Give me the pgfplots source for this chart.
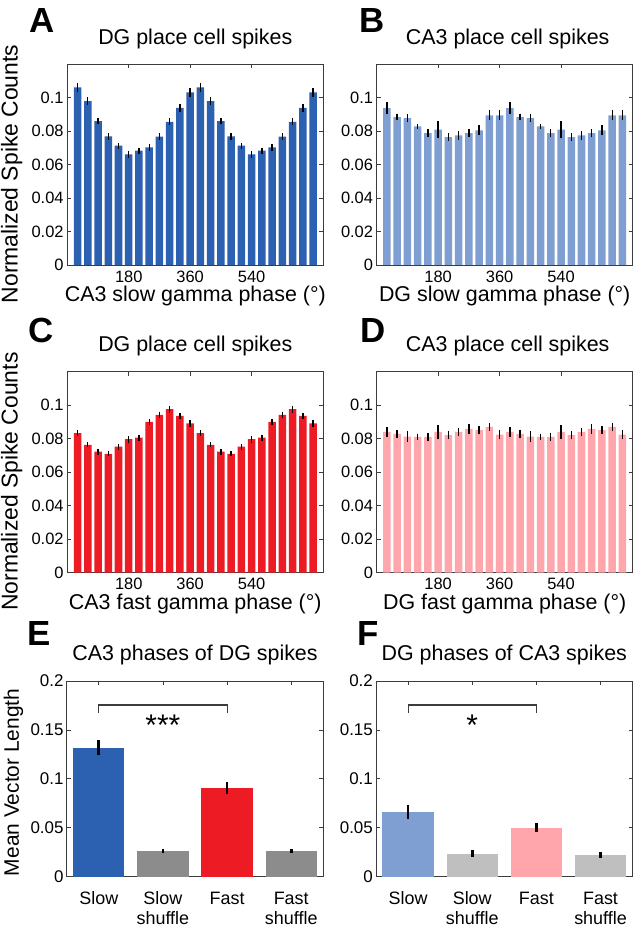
\documentclass[border=0pt]{standalone}
\usepackage{pgfplots}
\pgfplotsset{compat=1.18}
\usepackage{pgfplotstable}
\usepackage{fontspec}
\setmainfont{Liberation Sans}

\definecolor{cA}{RGB}{44,96,176}
\definecolor{cB}{RGB}{127,158,210}
\definecolor{cC}{RGB}{237,28,36}
\definecolor{cD}{RGB}{255,166,172}
\definecolor{gE}{RGB}{140,140,140}
\definecolor{gF}{RGB}{191,191,191}
\definecolor{frame}{RGB}{60,60,60}

\pgfplotstableread{
x y e
30 0.1060 0.0025
60 0.0978 0.0022
90 0.0859 0.0020
120 0.0768 0.0020
150 0.0712 0.0018
180 0.0661 0.0020
210 0.0683 0.0018
240 0.0702 0.0020
270 0.0766 0.0020
300 0.0855 0.0022
330 0.0938 0.0025
360 0.1030 0.0025
390 0.1060 0.0025
420 0.0978 0.0022
450 0.0859 0.0020
480 0.0768 0.0020
510 0.0712 0.0018
540 0.0661 0.0020
570 0.0683 0.0018
600 0.0702 0.0020
630 0.0766 0.0020
660 0.0855 0.0022
690 0.0938 0.0025
720 0.1030 0.0025
}\dataA

\pgfplotstableread{
x y e
30 0.0937 0.0035
60 0.0883 0.0020
90 0.0877 0.0025
120 0.0827 0.0015
150 0.0788 0.0025
180 0.0808 0.0050
210 0.0764 0.0025
240 0.0774 0.0025
270 0.0788 0.0025
300 0.0804 0.0030
330 0.0893 0.0030
360 0.0893 0.0030
390 0.0937 0.0035
420 0.0883 0.0020
450 0.0877 0.0025
480 0.0827 0.0015
510 0.0788 0.0025
540 0.0808 0.0050
570 0.0764 0.0025
600 0.0774 0.0025
630 0.0788 0.0025
660 0.0804 0.0030
690 0.0893 0.0030
720 0.0893 0.0030
}\dataB

\pgfplotstableread{
x y e
30 0.0833 0.0018
60 0.0763 0.0015
90 0.0723 0.0018
120 0.0709 0.0015
150 0.0753 0.0018
180 0.0797 0.0020
210 0.0807 0.0018
240 0.0900 0.0020
270 0.0942 0.0020
300 0.0976 0.0020
330 0.0936 0.0018
360 0.0892 0.0020
390 0.0833 0.0018
420 0.0763 0.0015
450 0.0723 0.0018
480 0.0709 0.0015
510 0.0753 0.0018
540 0.0797 0.0020
570 0.0807 0.0018
600 0.0900 0.0020
630 0.0942 0.0020
660 0.0976 0.0020
690 0.0936 0.0018
720 0.0892 0.0020
}\dataC

\pgfplotstableread{
x y e
30 0.0841 0.0030
60 0.0829 0.0025
90 0.0813 0.0030
120 0.0811 0.0020
150 0.0811 0.0025
180 0.0841 0.0040
210 0.0821 0.0025
240 0.0841 0.0025
270 0.0859 0.0030
300 0.0851 0.0025
330 0.0871 0.0025
360 0.0825 0.0025
390 0.0841 0.0030
420 0.0829 0.0025
450 0.0813 0.0030
480 0.0811 0.0020
510 0.0811 0.0025
540 0.0841 0.0040
570 0.0821 0.0025
600 0.0841 0.0025
630 0.0859 0.0030
660 0.0851 0.0025
690 0.0871 0.0025
720 0.0825 0.0025
}\dataD

\pgfplotsset{
  panel/.style={
    scale only axis,
    axis line style={frame, line width=0.8bp},
    tick align=inside,
    tick style={frame, line width=0.7bp},
    major tick length=4bp,
    tick label style={inner sep=0pt},
    title style={at={(axis description cs:0.5,1)}, anchor=base, yshift=14bp, inner sep=0pt,
                 font=\fontsize{21.5}{24}\selectfont},
    xlabel style={at={(axis description cs:0.5,0)}, anchor=base, yshift=-37bp, inner sep=0pt,
                  font=\fontsize{21.5}{24}\selectfont},
  },
  phase/.style={
    panel,
    width=256bp, height=201bp,
    xmin=0, xmax=750, ymin=0, ymax=0.12,
    xtick={180,360,540}, xticklabels={180,360,540},
    ytick={0,0.02,0.04,0.06,0.08,0.1},
    yticklabels={0,0.02,0.04,0.06,0.08,0.1},
    xticklabel style={anchor=north, yshift=-5.5bp, font=\fontsize{16.5}{18}\selectfont},
    yticklabel style={anchor=east, xshift=-3.5bp, font=\fontsize{16.5}{18}\selectfont},
    ylabel style={at={(axis description cs:-0.217,0.453)}, anchor=center, inner sep=0pt,
                  font=\fontsize{23}{26}\selectfont},
  },
  phasebar/.style={ybar, bar width=22, bar shift=0pt, fill=#1, draw=none,
    error bars/.cd, y dir=both, y explicit, error mark=none,
    error bar style={black, line width=1.4bp}},
  mvl/.style={
    panel,
    width=256.6bp, height=195.7bp,
    xmin=0.5, xmax=4.5, ymin=0, ymax=0.2,
    xtick={1,2,3,4},
    xticklabels={Slow, Slow\\shuffle, Fast, Fast\\shuffle},
    ytick={0,0.05,0.1,0.15,0.2},
    yticklabels={0,0.05,0.1,0.15,0.2},
    xticklabel style={anchor=north, align=center, yshift=-15bp, font=\fontsize{18}{20}\selectfont},
    yticklabel style={anchor=east, xshift=-3bp, font=\fontsize{17}{19}\selectfont},
    ylabel style={at={(axis description cs:-0.207,0.482)}, anchor=center, inner sep=0pt,
                  font=\fontsize{21}{24}\selectfont},
    title style={yshift=1bp},
  },
  mvlbar/.style={ybar, bar width=0.8, bar shift=0pt, fill=#1, draw=none,
    error bars/.cd, y dir=both, y explicit, error mark=none,
    error bar style={black, line width=2.6bp}},
}

\begin{document}
\begin{tikzpicture}
\path[use as bounding box] (0,0) rectangle (640bp,933bp);

% A
\begin{axis}[phase, at={(67.3bp,668bp)}, anchor=south west,
  title={DG place cell spikes}, xlabel={CA3 slow gamma phase (°)},
  ylabel={Normalized Spike Counts}]
\addplot[phasebar=cA] table[x=x, y=y, y error=e] {\dataA};
\end{axis}

% B
\begin{axis}[phase, at={(376.7bp,668bp)}, anchor=south west,
  title={CA3 place cell spikes}, title style={xshift=3bp}, xlabel={DG slow gamma phase (°)}]
\addplot[phasebar=cB] table[x=x, y=y, y error=e] {\dataB};
\end{axis}

% C
\begin{axis}[phase, at={(67.3bp,360.3bp)}, anchor=south west,
  title={DG place cell spikes}, xlabel={CA3 fast gamma phase (°)},
  ylabel={Normalized Spike Counts}]
\addplot[phasebar=cC] table[x=x, y=y, y error=e] {\dataC};
\end{axis}

% D
\begin{axis}[phase, at={(376.7bp,360.3bp)}, anchor=south west,
  title={CA3 place cell spikes}, title style={xshift=3bp}, xlabel={DG fast gamma phase (°)}]
\addplot[phasebar=cD] table[x=x, y=y, y error=e] {\dataD};
\end{axis}

% E
\begin{axis}[mvl, at={(66.7bp,56.3bp)}, anchor=south west,
  title={CA3 phases of DG spikes}, ylabel={Mean Vector Length}]
\addplot[mvlbar=cA] coordinates {(1,0.132) +- (0,0.0073)};
\addplot[mvlbar=gE] coordinates {(2,0.026) +- (0,0.002)};
\addplot[mvlbar=cC] coordinates {(3,0.091) +- (0,0.006)};
\addplot[mvlbar=gE] coordinates {(4,0.026) +- (0,0.002)};
\draw[frame, line width=1.1bp] (axis cs:1,0.1676) -- (axis cs:1,0.1755) -- (axis cs:3,0.1755) -- (axis cs:3,0.1676);
\node[anchor=base, inner sep=0pt, font=\fontsize{30}{32}\selectfont] at (axis cs:2,0.1445) {***};
\end{axis}

% F
\begin{axis}[mvl, at={(376bp,56.3bp)}, anchor=south west,
  title={DG phases of CA3 spikes}]
\addplot[mvlbar=cB] coordinates {(1,0.066) +- (0,0.0075)};
\addplot[mvlbar=gF] coordinates {(2,0.0235) +- (0,0.0035)};
\addplot[mvlbar=cD] coordinates {(3,0.050) +- (0,0.0045)};
\addplot[mvlbar=gF] coordinates {(4,0.022) +- (0,0.003)};
\draw[frame, line width=1.1bp] (axis cs:1,0.1676) -- (axis cs:1,0.1755) -- (axis cs:3,0.1755) -- (axis cs:3,0.1676);
\node[anchor=base, inner sep=0pt, font=\fontsize{30}{32}\selectfont] at (axis cs:2,0.1445) {*};
\end{axis}

% panel letters
\begin{scope}[every node/.style={anchor=base west, inner sep=0pt, font=\fontsize{35}{40}\selectfont\bfseries}]
\node at (29bp,900bp) {A};
\node at (359bp,900bp) {B};
\node at (28bp,590bp) {C};
\node at (360bp,590bp) {D};
\node at (27bp,287bp) {E};
\node at (357.5bp,287bp) {F};
\end{scope}
\end{tikzpicture}
\end{document}
